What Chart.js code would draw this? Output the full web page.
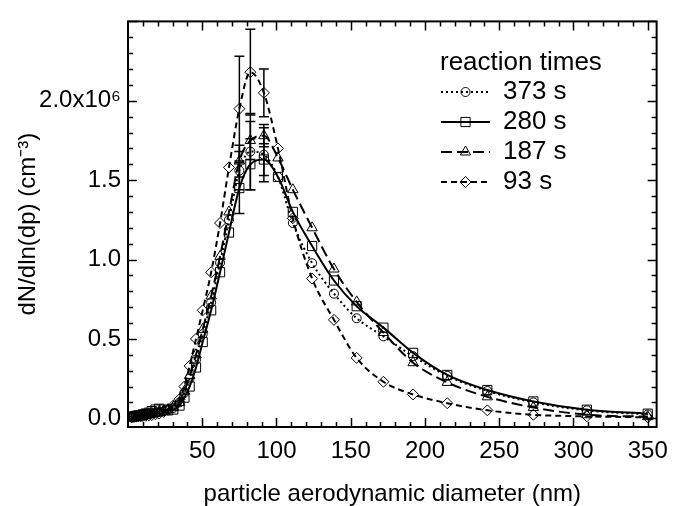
<!DOCTYPE html>
<html>
<head>
<meta charset="utf-8">
<script src="https://cdn.jsdelivr.net/npm/chart.js@4.4.0/dist/chart.umd.min.js"></script>
<style>
html,body{margin:0;padding:0;background:#fff;}
#chart-wrapper{width:678px;height:506px;}
</style>
</head>
<body>
<div id="chart-wrapper"><canvas id="myChart" width="678" height="506"></canvas></div>
<script>
// particle aerodynamic diameter (nm)
const diam = [2.5, 4, 5.5, 7, 8.5, 10, 12, 14, 16, 18.5, 21, 24, 27, 30.5,
  34.7, 38, 41.5, 45.8, 50.3, 56, 62, 68, 75, 82.4, 91.5, 101, 111, 124,
  138.7, 154, 172, 192, 215, 242, 273, 309, 350];

// dN/dln(dp) in 10^6 cm^-3
const n373 = [0.008, 0.01, 0.012, 0.015, 0.018, 0.02, 0.022, 0.025, 0.03, 0.035, 0.04, 0.045, 0.05, 0.065,
  0.1, 0.16, 0.25, 0.37, 0.53, 0.73, 0.98, 1.25, 1.56, 1.68, 1.66, 1.52, 1.23, 0.977,
  0.785, 0.63, 0.516, 0.391, 0.267, 0.172, 0.10, 0.05, 0.024];
const n280 = [0.01, 0.012, 0.015, 0.018, 0.02, 0.025, 0.03, 0.035, 0.045, 0.055, 0.06, 0.055, 0.05, 0.055,
  0.08, 0.13, 0.2, 0.32, 0.48, 0.68, 0.92, 1.17, 1.45, 1.6, 1.63, 1.52, 1.30, 1.085,
  0.868, 0.706, 0.571, 0.412, 0.273, 0.178, 0.106, 0.054, 0.029];
const n187 = [0.008, 0.01, 0.012, 0.014, 0.016, 0.018, 0.02, 0.024, 0.028, 0.032, 0.038, 0.045, 0.055, 0.07,
  0.1, 0.17, 0.27, 0.4, 0.56, 0.77, 1.02, 1.3, 1.62, 1.75, 1.78, 1.64, 1.44, 1.2,
  0.94, 0.733, 0.54, 0.35, 0.226, 0.135, 0.068, 0.022, 0.01];
const n93 = [0.005, 0.008, 0.01, 0.012, 0.012, 0.014, 0.016, 0.018, 0.02, 0.025, 0.03, 0.04, 0.055, 0.08,
  0.12, 0.2, 0.33, 0.5, 0.68, 0.92, 1.23, 1.58, 1.95, 2.18, 2.05, 1.70, 1.26, 0.88,
  0.62, 0.38, 0.23, 0.15, 0.095, 0.05, 0.022, 0.012, 0.006];

// error bars at the peak
const errDiam = [75, 82.4, 91.5];
const err373 = [0.12, 0.24, 0.17];
const err280 = [0.16, 0.16, 0.10];
const err187 = [0.10, 0.12, 0.07];
const err93 = [0.33, 0.27, 0.15];

const seriesLabels = ['373 s', '280 s', '187 s', '93 s'];
const legendTitle = 'reaction times';
const xTickVals = [50, 100, 150, 200, 250, 300, 350];
const yTickVals = [0, 0.5, 1.0, 1.5, 2.0];
const yTickText = ['0.0', '0.5', '1.0', '1.5', '2.0x10\u2076'];

const FONT = '"Liberation Sans", Arial, Helvetica, sans-serif';

function pts(ys) {
  return diam.map((d, i) => ({x: d, y: ys[i]}));
}

function mkSet(label, ys, errs, style, r, dash) {
  return {
    label: label,
    data: pts(ys),
    errs: errs,
    borderColor: '#000',
    backgroundColor: 'rgba(0,0,0,0)',
    borderWidth: 2,
    borderDash: dash,
    pointStyle: style,
    pointRadius: r,
    pointBorderWidth: 1,
    pointBorderColor: '#000',
    pointBackgroundColor: 'rgba(0,0,0,0)',
    cubicInterpolationMode: 'monotone',
    fill: false
  };
}

const errorBars = {
  id: 'errorBars',
  afterDatasetsDraw(chart) {
    const ctx = chart.ctx;
    const xs = chart.scales.x, ys = chart.scales.y;
    ctx.save();
    ctx.strokeStyle = '#000';
    ctx.lineWidth = 1.5;
    chart.data.datasets.forEach(ds => {
      errDiam.forEach((d, k) => {
        const i = diam.indexOf(d);
        const v = ds.data[i].y;
        const px = xs.getPixelForValue(d);
        const top = ys.getPixelForValue(v + ds.errs[k]);
        const bot = ys.getPixelForValue(v - ds.errs[k]);
        ctx.beginPath();
        ctx.moveTo(px, top); ctx.lineTo(px, bot);
        ctx.moveTo(px - 5, top); ctx.lineTo(px + 5, top);
        ctx.moveTo(px - 5, bot); ctx.lineTo(px + 5, bot);
        ctx.stroke();
      });
    });
    ctx.restore();
  }
};

const frameTicks = {
  id: 'frameTicks',
  afterDraw(chart) {
    const ctx = chart.ctx;
    const a = chart.chartArea;
    const xs = chart.scales.x, ys = chart.scales.y;
    ctx.save();
    ctx.strokeStyle = '#000';
    ctx.lineWidth = 2;
    ctx.strokeRect(a.left, a.top, a.right - a.left, a.bottom - a.top);
    ctx.lineWidth = 1.5;
    ctx.beginPath();
    for (let v = 10; v <= xs.max; v += 10) {
      const px = Math.round(xs.getPixelForValue(v)) + 0.5;
      const len = v % 50 === 0 ? 9 : 5;
      ctx.moveTo(px, a.bottom); ctx.lineTo(px, a.bottom - len);
      ctx.moveTo(px, a.top); ctx.lineTo(px, a.top + len);
    }
    for (let i = 0; i <= 25; i++) {
      const py = Math.round(ys.getPixelForValue(i / 10)) + 0.5;
      const len = i % 5 === 0 ? 9 : 5;
      ctx.moveTo(a.left, py); ctx.lineTo(a.left + len, py);
      ctx.moveTo(a.right, py); ctx.lineTo(a.right - len, py);
    }
    ctx.stroke();
    ctx.restore();
  }
};

const legendBox = {
  id: 'legendBox',
  afterDraw(chart) {
    const ctx = chart.ctx;
    ctx.save();
    ctx.fillStyle = '#000';
    ctx.font = '26px ' + FONT;
    ctx.textBaseline = 'middle';
    ctx.fillText(legendTitle, 440, 63);
    chart.data.datasets.forEach((ds, i) => {
      const yy = 92 + i * 30;
      ctx.strokeStyle = '#000';
      ctx.lineWidth = 2;
      ctx.setLineDash(ds.borderDash);
      ctx.beginPath();
      ctx.moveTo(441, yy); ctx.lineTo(490, yy);
      ctx.stroke();
      ctx.setLineDash([]);
      ctx.lineWidth = 1;
      ctx.fillStyle = 'rgba(0,0,0,0)';
      Chart.helpers.drawPoint(ctx, {pointStyle: ds.pointStyle, radius: ds.pointRadius, borderWidth: 1, rotation: 0}, 465.5, yy);
      ctx.fillStyle = '#000';
      ctx.fillText(ds.label, 503, yy);
    });
    ctx.restore();
  }
};

const myChart = new Chart(document.getElementById('myChart').getContext('2d'), {
  type: 'line',
  data: {
    datasets: [
      mkSet(seriesLabels[0], n373, err373, 'circle', 4.5, [2, 3]),
      mkSet(seriesLabels[1], n280, err280, 'rect', 6.5, []),
      mkSet(seriesLabels[2], n187, err187, 'triangle', 6, [11, 5]),
      mkSet(seriesLabels[3], n93, err93, 'rectRot', 5.5, [6, 4])
    ]
  },
  options: {
    responsive: false,
    animation: false,
    devicePixelRatio: 1,
    layout: {padding: {left: 0, right: 15, top: 16, bottom: 0}},
    plugins: {legend: {display: false}, tooltip: {enabled: false}},
    scales: {
      x: {
        type: 'linear',
        min: 0,
        max: 356,
        grid: {display: false, drawTicks: false},
        border: {display: false},
        afterBuildTicks: s => { s.ticks = xTickVals.map(v => ({value: v})); },
        afterFit: s => { s.height = 79; },
        ticks: {
          color: '#000',
          padding: 10,
          maxRotation: 0,
          font: {family: FONT, size: 24},
          callback: v => String(v)
        },
        title: {
          display: true,
          text: 'particle aerodynamic diameter (nm)',
          color: '#000',
          font: {family: FONT, size: 24, lineHeight: 1},
          padding: {top: 0, bottom: 0}
        }
      },
      y: {
        type: 'linear',
        min: -0.055,
        max: 2.5,
        grid: {display: false, drawTicks: false},
        border: {display: false},
        afterBuildTicks: s => { s.ticks = yTickVals.map(v => ({value: v})); },
        afterFit: s => { s.width = 128; },
        ticks: {
          color: '#000',
          padding: 7,
          font: {family: FONT, size: 24},
          callback: v => yTickText[yTickVals.indexOf(v)]
        },
        title: {
          display: true,
          text: 'dN/dln(dp) (cm\u207B\u00B3)',
          color: '#000',
          font: {family: FONT, size: 24, lineHeight: 1},
          padding: {top: 16, bottom: 0}
        }
      }
    }
  },
  plugins: [errorBars, frameTicks, legendBox]
});
</script>
</body>
</html>
